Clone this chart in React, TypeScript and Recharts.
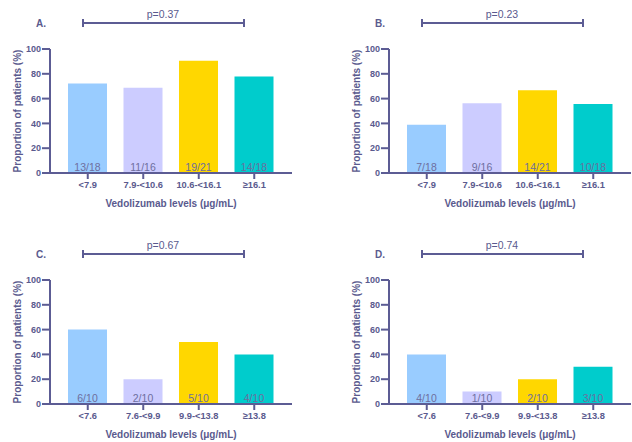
import React from 'react';
import { BarChart, Bar, XAxis, YAxis, Cell, LabelList } from 'recharts';

const categoriesAB = ['<7.9', '7.9-<10.6', '10.6-<16.1', '≥16.1'];
const categoriesCD = ['<7.6', '7.6-<9.9', '9.9-<13.8', '≥13.8'];

const valuesA = [72.2, 68.8, 90.5, 77.8];
const valuesB = [38.9, 56.3, 66.7, 55.6];
const valuesC = [60, 20, 50, 40];
const valuesD = [40, 10, 20, 30];

const labelsA = ['13/18', '11/16', '19/21', '14/18'];
const labelsB = ['7/18', '9/16', '14/21', '10/18'];
const labelsC = ['6/10', '2/10', '5/10', '4/10'];
const labelsD = ['4/10', '1/10', '2/10', '3/10'];

const pValues = ['p=0.37', 'p=0.23', 'p=0.67', 'p=0.74'];
const panelLetters = ['A.', 'B.', 'C.', 'D.'];
const yTicks = [0, 20, 40, 60, 80, 100];
const barColors = ['#99ccff', '#ccccff', '#ffd700', '#00cccc'];

const AXIS = '#5c5c94';
const TEXT = '#5a5a8e';
const BARTEXT = '#6e6e9e';

type PanelProps = {
  left: number;
  top: number;
  letter: string;
  p: string;
  cats: string[];
  values: number[];
  labels: string[];
};

function Panel({ left, top, letter, p, cats, values, labels }: PanelProps) {
  const data = cats.map((c, i) => ({ cat: c, value: values[i], label: labels[i] }));
  return (
    <div style={{ position: 'absolute', left, top, width: 300, height: 212 }}>
      <BarChart width={300} height={212} data={data} margin={{ top: 49, right: 8, left: 0, bottom: 0 }}>
        <XAxis
          dataKey="cat"
          type="category"
          interval={0}
          padding={{ left: 10, right: 10 }}
          height={39}
          tickSize={6}
          tickMargin={2}
          axisLine={{ stroke: AXIS, strokeWidth: 2 }}
          tickLine={{ stroke: AXIS, strokeWidth: 2 }}
          tick={{ fill: TEXT, fontSize: 9.3, fontWeight: 'bold' }}
          label={{ value: 'Vedolizumab levels (μg/mL)', position: 'insideBottom', offset: 5, fill: TEXT, fontSize: 10, fontWeight: 'bold' }}
        />
        <YAxis
          domain={[0, 100]}
          ticks={yTicks}
          width={50}
          tickSize={8}
          tickMargin={1}
          axisLine={{ stroke: AXIS, strokeWidth: 2 }}
          tickLine={{ stroke: AXIS, strokeWidth: 2 }}
          tick={{ fill: TEXT, fontSize: 9, fontWeight: 'bold' }}
          label={{
            value: 'Proportion of patients (%)',
            angle: -90,
            position: 'insideLeft',
            offset: 17,
            fill: TEXT,
            fontSize: 10,
            fontWeight: 'bold',
            textAnchor: 'middle',
            style: { textAnchor: 'middle' },
          }}
        />
        <Bar dataKey="value" barSize={39} isAnimationActive={false}>
          {data.map((d, i) => (
            <Cell key={d.cat} fill={barColors[i]} />
          ))}
          <LabelList dataKey="label" position="insideBottom" offset={2} fill={BARTEXT} fontSize={10.5} />
        </Bar>
      </BarChart>
      <svg width={300} height={40} style={{ position: 'absolute', left: 0, top: 0 }}>
        <text x={36} y={27} fill={TEXT} fontSize={10} fontWeight="bold">{letter}</text>
        <line x1={83} y1={23} x2={244} y2={23} stroke={AXIS} strokeWidth={2} />
        <line x1={83} y1={19} x2={83} y2={27} stroke={AXIS} strokeWidth={2} />
        <line x1={244} y1={19} x2={244} y2={27} stroke={AXIS} strokeWidth={2} />
        <text x={163} y={18} fill={TEXT} fontSize={10.5} textAnchor="middle">{p}</text>
      </svg>
    </div>
  );
}

export default function App() {
  return (
    <div
      style={{
        position: 'absolute',
        left: 0,
        top: 0,
        width: 632,
        height: 442,
        overflow: 'hidden',
        background: '#ffffff',
        fontFamily: '"Liberation Sans", Arial, sans-serif',
      }}
    >
      <Panel left={0} top={0} letter={panelLetters[0]} p={pValues[0]} cats={categoriesAB} values={valuesA} labels={labelsA} />
      <Panel left={339} top={0} letter={panelLetters[1]} p={pValues[1]} cats={categoriesAB} values={valuesB} labels={labelsB} />
      <Panel left={0} top={231} letter={panelLetters[2]} p={pValues[2]} cats={categoriesCD} values={valuesC} labels={labelsC} />
      <Panel left={339} top={231} letter={panelLetters[3]} p={pValues[3]} cats={categoriesCD} values={valuesD} labels={labelsD} />
    </div>
  );
}
